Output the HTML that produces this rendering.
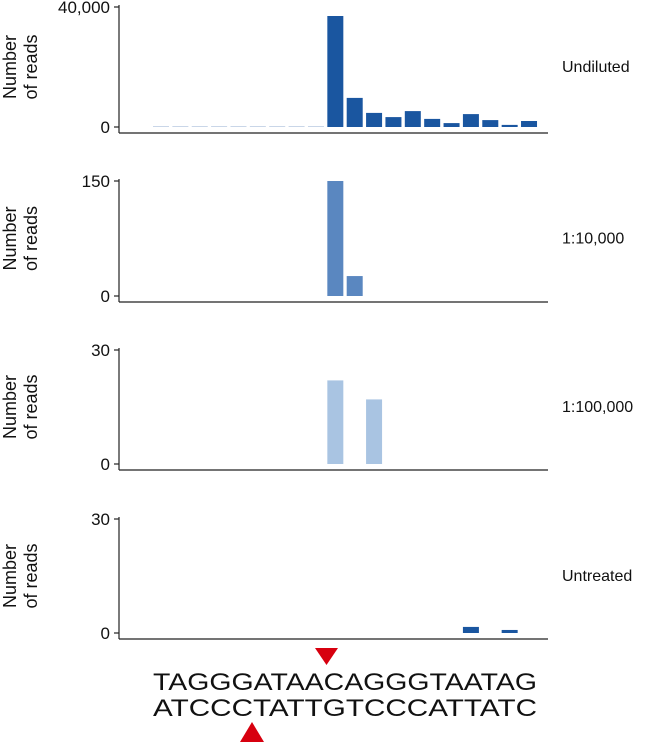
<!DOCTYPE html>
<html><head><meta charset="utf-8"><style>
body{margin:0;background:#fff}
svg{display:block;font-family:"Liberation Sans",Arial,sans-serif}
</style></head><body>
<svg id="chart" width="650" height="742" viewBox="0 0 650 742"></svg>
<script>
const positions = ["T","A","G","G","G","A","T","A","A","C","A","G","G","G","T","A","A","T","A","G"];
const panelNames = ["Undiluted","1:10,000","1:100,000","Untreated"];
const panelMax = [40000,150,30,30];
const panelTickLabels = [["0","40,000"],["0","150"],["0","30"],["0","30"]];
const undilutedValues = [50,50,50,50,300,50,50,50,50,37000,9700,4700,3300,5300,2700,1300,4300,2300,700,2000];
const dil1e4Values = [0,0,0,0,0,0,0,0,0,150,26,0,0,0,0,0,0,0,0,0];
const dil1e5Values = [0,0,0,0,0,0,0,0,0,22,0,17,0,0,0,0,0,0,0,0];
const untreatedValues = [0,0,0,0,0,0,0,0,0,0,0,0,0,0,0,0,1.6,0,0.8,0];
const panelValues = [undilutedValues,dil1e4Values,dil1e5Values,untreatedValues];
const panelColors = ["#1a56a0","#5a87c0","#a9c4e2","#1a56a0"];
const panelTop = [7,181,350,519];
const panelZero = [127,296,464,633];
const topStrand = "TAGGGATAACAGGGTAATAG";
const bottomStrand = "ATCCCTATTGTCCCATTATC";

const NS="http://www.w3.org/2000/svg";
const svg=document.getElementById('chart');
function mk(tag,attrs,parent){const e=document.createElementNS(NS,tag);for(const k in attrs)e.setAttribute(k,attrs[k]);(parent||svg).appendChild(e);return e;}
const x0=153, step=19.37, bw=16;
function xScale(i){return x0+i*step;}
panelNames.forEach((name,p)=>{
  const g=mk('g',{});
  
  
  const yS=v=>panelZero[p]-(v/panelMax[p])*(panelZero[p]-panelTop[p]);
  const base=panelZero[p]+6;
  const ax=mk('line',{x1:119,y1:panelTop[p]-2,x2:119,y2:base,stroke:'#222','stroke-width':1.2},g);
  
  
  const xa=mk('line',{x1:119,y1:base,x2:548,y2:base,stroke:'#222','stroke-width':1.2},g);
  
  
  [0,panelMax[p]].forEach((v,k)=>{
    const y=yS(v);
    mk('line',{x1:114,y1:y,x2:119,y2:y,stroke:'#222','stroke-width':1.2},g);
    const t=mk('text',{x:110,y:y+6,'text-anchor':'end','font-size':17,fill:'#111'},g);
    t.textContent=panelTickLabels[p][k];
    
    
  });
  const cy=(panelTop[p]+panelZero[p])/2;
  const yl=mk('text',{transform:`translate(16,${cy}) rotate(-90)`,'text-anchor':'middle','font-size':18,fill:'#111'},g);
  
  
  const t1=mk('tspan',{x:0,dy:0},yl);t1.textContent='Number';
  const t2=mk('tspan',{x:0,dy:21},yl);t2.textContent='of reads';
  const lab=mk('text',{x:562,y:cy+5,'font-size':16,fill:'#111'},g);
  lab.textContent=name;
  
  
  panelValues[p].forEach((v,i)=>{
    if(v<=0)return;
    const y=yS(v);
    const h=Math.max(panelZero[p]-y,1);
    const r=mk('rect',{x:xScale(i),y:panelZero[p]-h,width:bw,height:h,fill:panelColors[p]},g);
    if(h<1.5) r.setAttribute('fill','#c9d6e8');
    
    
  });
});
const s1=mk('text',{x:153,y:690,'font-size':24,textLength:384,lengthAdjust:'spacingAndGlyphs',fill:'#111'});
s1.textContent=topStrand;


const s2=mk('text',{x:153,y:716,'font-size':24,textLength:384,lengthAdjust:'spacingAndGlyphs',fill:'#111'});
s2.textContent=bottomStrand;


const c1=mk('polygon',{points:'315,648 338,648 326.5,665',fill:'#d7000f'});


const c2=mk('polygon',{points:'240,742 264,742 252,722',fill:'#d7000f'});


</script>
</body></html>
